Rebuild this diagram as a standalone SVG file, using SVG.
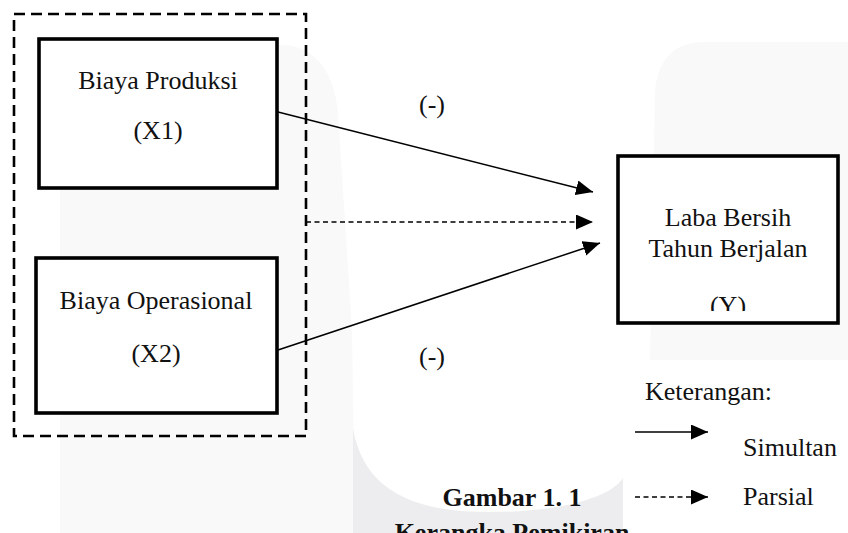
<svg xmlns="http://www.w3.org/2000/svg" width="848" height="533" viewBox="0 0 848 533">
<style>
.t{font-family:"Liberation Serif","Times New Roman",serif;font-size:26px;fill:#111}
.b{font-weight:bold}
.box{fill:#fff;stroke:#000;stroke-width:3.6}
.ln{stroke:#000;stroke-width:1.5;fill:none}
.dash{stroke-dasharray:5 3.5}
</style>
<defs>
<marker id="ah" markerUnits="userSpaceOnUse" markerWidth="18" markerHeight="16" refX="17" refY="7.5" orient="auto">
<path d="M0,0 L17,7.5 L0,15 Z" fill="#000"/>
</marker>
<clipPath id="yclip"><rect x="617" y="155" width="222" height="156"/></clipPath>
</defs>
<rect width="848" height="533" fill="#fff"/>
<g id="watermark">
<path d="M60,533 L60,70 Q60,45 85,45 L285,45 C318,48 334,75 338,112 L352,330 L355,533 Z" fill="#f9f9f9"/>
<path d="M650,360 L655,90 Q660,42 705,42 L848,42 L848,360 Z" fill="#f9f9f9"/>
<path d="M353,428 C365,500 430,512 490,512 C560,512 610,498 623,478 L623,533 L353,533 Z" fill="#ededef"/>
</g>
<g id="group-x">
<rect x="14" y="14" width="292" height="422" fill="none" stroke="#000" stroke-width="2.6" stroke-dasharray="11 6"/>
</g>
<g id="node-x1">
<rect class="box" x="39" y="39" width="238" height="149"/>
<text class="t" x="158" y="89" text-anchor="middle">Biaya Produksi</text>
<text class="t" x="158" y="139" text-anchor="middle">(X1)</text>
</g>
<g id="node-x2">
<rect class="box" x="36" y="258" width="241" height="155"/>
<text class="t" x="156" y="309" text-anchor="middle">Biaya Operasional</text>
<text class="t" x="156" y="362" text-anchor="middle">(X2)</text>
</g>
<g id="node-y">
<rect class="box" x="618" y="156" width="220" height="167"/>
<text class="t" x="728" y="226" text-anchor="middle">Laba Bersih</text>
<text class="t" x="728" y="257" text-anchor="middle">Tahun Berjalan</text>
<text class="t" x="728" y="314" text-anchor="middle" clip-path="url(#yclip)">(Y)</text>
</g>
<g id="connectors">
<line class="ln" x1="278" y1="112" x2="593" y2="192" marker-end="url(#ah)"/>
<line class="ln dash" x1="306" y1="222" x2="593" y2="222" marker-end="url(#ah)"/>
<line class="ln" x1="278" y1="350" x2="600" y2="243" marker-end="url(#ah)"/>
</g>
<g id="labels">
<text class="t" x="432" y="113" text-anchor="middle">(-)</text>
<text class="t" x="432" y="365" text-anchor="middle">(-)</text>
</g>
<g id="legend">
<text class="t" x="645" y="400">Keterangan:</text>
<line class="ln" x1="635" y1="432" x2="708" y2="432" marker-end="url(#ah)"/>
<text class="t" x="743" y="456">Simultan</text>
<line class="ln dash" x1="635" y1="497" x2="708" y2="497" marker-end="url(#ah)"/>
<text class="t" x="743" y="505">Parsial</text>
</g>
<g id="caption">
<text class="t b" x="512" y="506" text-anchor="middle">Gambar 1. 1</text>
<text class="t b" x="512" y="541" text-anchor="middle">Kerangka Pemikiran</text>
</g>
</svg>
